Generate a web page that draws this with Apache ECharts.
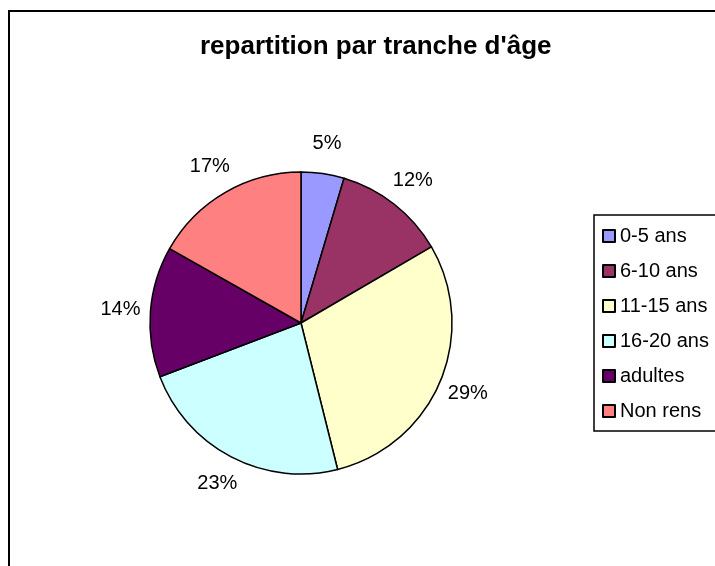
<!DOCTYPE html>
<html>
<head>
<meta charset="utf-8">
<script src="https://cdn.jsdelivr.net/npm/echarts@6/dist/echarts.min.js"></script>
<style>
  html, body { margin: 0; padding: 0; background: #fff; }
  #main { width: 715px; height: 566px; }
</style>
</head>
<body>
<div id="main"></div>
<script>
var categories = ['0-5 ans', '6-10 ans', '11-15 ans', '16-20 ans', 'adultes', 'Non rens'];
var values = [4.6, 12.0, 29.5, 23.1, 14.0, 16.8];
var colors = ['#9999FF', '#993366', '#FFFFCC', '#CCFFFF', '#660066', '#FF8080'];

var chart = echarts.init(document.getElementById('main'));

var pieData = categories.map(function (name, i) {
    return { name: name, value: values[i], itemStyle: { color: colors[i] } };
});
// same data, only used to place the percentage labels around the pie
var labelData = categories.map(function (name, i) {
    return { name: name, value: values[i] };
});

var font = 'Arial, "Liberation Sans", sans-serif';

chart.setOption({
    animation: false,
    backgroundColor: '#fff',
    title: {
        text: "repartition par tranche d'âge",
        left: 200,
        top: 34,
        padding: 0,
        textStyle: { fontFamily: font, fontSize: 26, fontWeight: 'bold', color: '#000' }
    },
    legend: {
        orient: 'vertical',
        left: 594,
        top: 215,
        data: categories,
        icon: 'rect',
        itemWidth: 12,
        itemHeight: 12,
        itemGap: 15,
        padding: [11, 60, 10, 8],
        borderColor: '#000',
        borderWidth: 1.5,
        borderRadius: 0,
        selectedMode: false,
        textStyle: { fontFamily: font, fontSize: 20, color: '#000' }
    },
    graphic: [{
        type: 'rect',
        shape: { x: 9, y: 11, width: 800, height: 700 },
        style: { fill: 'none', stroke: '#000', lineWidth: 2 },
        silent: true
    }],
    series: [{
        type: 'pie',
        center: [301, 323],
        radius: 151,
        startAngle: 90,
        clockwise: true,
        avoidLabelOverlap: false,
        label: { show: false },
        labelLine: { show: false },
        emphasis: { disabled: true },
        itemStyle: { borderColor: '#000', borderWidth: 1.5 },
        data: pieData
    }, {
        type: 'pie',
        center: [301, 323],
        radius: [170, 186],
        startAngle: 90,
        clockwise: true,
        silent: true,
        avoidLabelOverlap: false,
        itemStyle: { color: 'rgba(0,0,0,0)', borderWidth: 0 },
        label: {
            show: true,
            position: 'inside',
            formatter: '{d}%',
            fontFamily: font,
            fontSize: 20,
            color: '#000'
        },
        percentPrecision: 0,
        labelLine: { show: false },
        emphasis: { disabled: true },
        data: labelData
    }]
});
</script>
</body>
</html>
